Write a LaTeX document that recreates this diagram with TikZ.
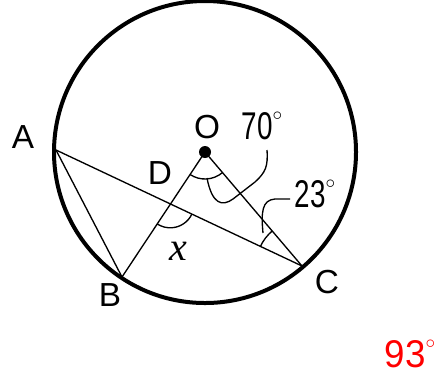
\documentclass[tikz,border=0pt]{standalone}
\usepackage{fontspec}
\setmainfont{Liberation Sans}
\newfontfamily\serifit{Liberation Serif}
\tikzset{
  lbl/.style={inner sep=0pt, font=\fontsize{25}{30}\selectfont},
  num/.style={inner sep=0pt, font=\fontsize{29}{34}\selectfont},
  thin/.style={line width=1pt},
  heavy/.style={line width=3pt}
}
\newcommand{\narrow}[1]{\scalebox{0.72}[1]{#1}}
\newcommand{\dg}{\raisebox{0.5em}{\fontsize{15}{16}\selectfont$\circ$}}
\begin{document}
\begin{tikzpicture}[x=0.75pt,y=-0.75pt]
\useasboundingbox (0,0) rectangle (448,376);
\coordinate (O) at (205,152);
\coordinate (A) at (56,150);
\coordinate (B) at (122,277);
\coordinate (C) at (302,266);
\coordinate (D) at (170.2,203.8);
% circle
\draw[heavy] (O) circle[radius=151];
% segments
\draw[thin] (A) -- (C);
\draw[thin] (A) -- (B);
\draw[thin] (B) -- (O) -- (C);
\fill (O) circle[radius=6];
% angle arcs
\draw[thin] (O) ++(49.9:27) arc[start angle=49.9, end angle=123.4, radius=27];
\draw[thin] (D) ++(25.2:24) arc[start angle=25.2, end angle=123.4, radius=24];
\draw[thin] (C) ++(205.2:46) arc[start angle=205.2, end angle=229.9, radius=46];
% leaders
\draw[thin] (267,150) .. controls (268,166) and (266,172) .. (255,182) -- (233,199) .. controls (222,207) and (212,204) .. (207,178);
\draw[thin] (290,199) -- (275,199) .. controls (262,200) and (261,212) .. (263,233);
% labels
\node[lbl] (lA) at (23,137) {A};
\node[lbl] (lO) at (207,127) {O};
\node[lbl] (lD) at (160,173) {D};
\node[lbl] (lB) at (110,295) {B};
\node[lbl] (lC) at (327,282) {C};
\node[inner sep=0pt, font=\serifit\itshape\fontsize{30}{34}\selectfont] (lx) at (178,251) {x};
\node[num] (l70) at (262,126) {\narrow{70}\dg};
\node[num] (l23) at (315,194) {\narrow{23}\dg};
\node[num, text=red] (l93) at (410,354) {\scalebox{0.95}[1]{93}\dg};
\end{tikzpicture}
\end{document}
